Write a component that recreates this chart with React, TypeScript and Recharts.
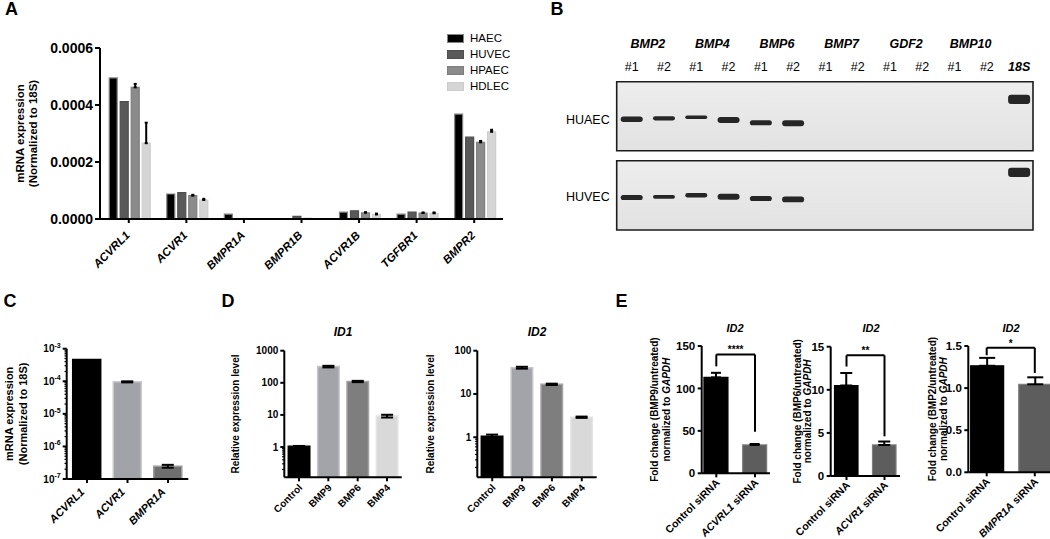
import React from 'react';
import {
  BarChart, Bar, XAxis, YAxis, ErrorBar, Legend, Cell,
  ScatterChart, Scatter, ReferenceArea, ReferenceLine,
} from 'recharts';

const FONT = '"Liberation Sans", Arial, Helvetica, sans-serif';
const AX = { stroke: '#000', strokeWidth: 2 };

// ---------------- Panel A data ----------------
const genesA = ['ACVRL1', 'ACVR1', 'BMPR1A', 'BMPR1B', 'ACVR1B', 'TGFBR1', 'BMPR2'];
const cellLinesA = ['HAEC', 'HUVEC', 'HPAEC', 'HDLEC'];
const haecA = [0.000495, 0.0000877, 0.000017, 0.000001, 0.000024, 0.000017, 0.000368];
const huvecA = [0.000412, 0.0000923, 0.0000005, 0.000009, 0.000029, 0.000024, 0.000287];
const hpaecA = [0.000462, 0.0000818, 0.0000005, 0.000002, 0.000022, 0.000021, 0.000269];
const hdlecA = [0.000266, 0.0000667, 0.000001, 0.000001, 0.000016, 0.00002, 0.000306];
const errHpaecA = [0.000012, 0.000003, null, null, 0.000002, 0.000002, 0.000005];
const errHdlecA = [0.000072, 0.000004, null, null, 0.000003, 0.000003, 0.000007];
const ticksA = [0, 0.0002, 0.0004, 0.0006];
const fillsA = ['#000000', '#595959', '#8b8b8b', '#d5d5d5'];
const strokesA = ['#858585', '#4f4f4f', '#7e7e7e', '#cdcdcd'];

// ---------------- Panel B data (gel) ----------------
const laneLabelsB = ['#1', '#2', '#1', '#2', '#1', '#2', '#1', '#2', '#1', '#2', '#1', '#2', '18S'];
const geneLabelsB = ['BMP2', 'BMP4', 'BMP6', 'BMP7', 'GDF2', 'BMP10'];
const rowNamesB = ['HUAEC', 'HUVEC'];
const rowLabelPosB = [37.6, 35.3];
const huaecBandPos = [37.6, 36.6, 35.6, 38.3, 41.0, 41.6, null, null, null, null, null, null, 17.6];
const huaecBandSignal = [0.9, 0.7, 0.6, 1.0, 0.85, 1.0, 0, 0, 0, 0, 0, 0, 1.55];
const huvecBandPos = [36.6, 36.0, 34.3, 36.0, 37.6, 38.6, null, null, null, null, null, null, 11.6];
const huvecBandSignal = [0.85, 0.65, 0.75, 1.0, 0.85, 0.95, 0, 0, 0, 0, 0, 0, 1.55];

// ---------------- Panel C data ----------------
const genesC = ['ACVRL1', 'ACVR1', 'BMPR1A'];
const valuesC = [4.7e-4, 9.6e-5, 2.47e-7];
const errC = [null, 0.35e-5, 0.25e-7];
const fillsC = ['#000000', '#a2a2a9', '#6f6f6f'];
const strokesC = ['#000000', '#cbcbcb', '#9a9a9a'];
const majorsC = [1e-7, 1e-6, 1e-5, 1e-4, 1e-3];
const minorsC = [
  2e-7, 3e-7, 4e-7, 5e-7, 6e-7, 7e-7, 8e-7, 9e-7,
  2e-6, 3e-6, 4e-6, 5e-6, 6e-6, 7e-6, 8e-6, 9e-6,
  2e-5, 3e-5, 4e-5, 5e-5, 6e-5, 7e-5, 8e-5, 9e-5,
  2e-4, 3e-4, 4e-4, 5e-4, 6e-4, 7e-4, 8e-4, 9e-4,
];

// ---------------- Panel D data ----------------
const treatD = ['Control', 'BMP9', 'BMP6', 'BMP4'];
const id1D = [1.05, 320, 110, 9.2];
const id1ErrD = [0.03, 18, 5, 0.9];
const id2D = [1.05, 40.5, 16.7, 2.9];
const id2ErrD = [0.1, 2, 0.6, 0.1];
const fillsD = ['#000000', '#a3a3aa', '#7e7e7e', '#d9d9d9'];
const strokesD = ['#000000', '#c6c6c6', '#a3a3a3', '#e4e4e4'];
const majorsD1 = [1, 10, 100, 1000];
const majorsD2 = [1, 10, 100];
const minorsD = [0.2, 0.3, 0.4, 0.5, 0.6, 0.7, 0.8, 0.9];

// ---------------- Panel E data ----------------
const siE1 = ['Control siRNA', 'ACVRL1 siRNA'];
const siE2 = ['Control siRNA', 'ACVR1 siRNA'];
const siE3 = ['Control siRNA', 'BMPR1A siRNA'];
const valE1 = [113, 33.4];
const errE1 = [5.4, 1.1];
const valE2 = [10.5, 3.6];
const errE2 = [1.45, 0.4];
const valE3 = [1.265, 1.045];
const errE3 = [0.094, 0.083];
const ticksE1 = [0, 50, 100, 150];
const ticksE2 = [0, 5, 10, 15];
const ticksE3 = [0, 0.5, 1.0, 1.5];
const bracketTopE = [140, 14, 1.48];
const bracketLeftE = [126, 12.7, 1.39];
const bracketRightE = [49, 4.6, 1.18];
const sigE = ['****', '**', '*'];
const fillsE = ['#000000', '#5d5d5d'];
const strokesE = ['#000000', '#7d7d7d'];

// ---------------- helpers ----------------
function YTitle(p: any) {
  const { viewBox, lines, xs, fontSize } = p;
  const cy = viewBox.y + viewBox.height / 2;
  return (
    <g>
      {lines.map((ln: any, i: number) => {
        const x = viewBox.x + xs[i];
        const segs = Array.isArray(ln) ? ln : [{ t: ln }];
        return (
          <text key={i} x={x} y={cy} transform={`rotate(-90 ${x} ${cy})`} textAnchor="middle"
            dominantBaseline="central" fontSize={fontSize} fontWeight="bold" fill="#000" fontFamily={FONT}
            style={{ whiteSpace: 'pre' }}>
            {segs.map((s: any, j: number) => (
              <tspan key={j} fontStyle={s.i ? 'italic' : 'normal'}>{s.t}</tspan>
            ))}
          </text>
        );
      })}
    </g>
  );
}

function RotTick(p: any) {
  const { x, y, payload, fontSize = 12, italic = false, italicFirst = false, dx = 0, dy = 0 } = p;
  const s = String(payload.value);
  let content: any = s;
  if (italicFirst && !s.startsWith('Control')) {
    const sp = s.indexOf(' ');
    content = [
      <tspan key="a" fontStyle="italic">{s.slice(0, sp)}</tspan>,
      <tspan key="b">{'\u00a0' + s.slice(sp + 1)}</tspan>,
    ];
  }
  return (
    <g transform={`translate(${x + dx},${y + dy})`}>
      <text x={0} y={0} textAnchor="end" transform="rotate(-45)" fontSize={fontSize} fontWeight="bold"
        fontStyle={italic ? 'italic' : 'normal'} fill="#000" fontFamily={FONT}>
        {content}
      </text>
    </g>
  );
}

function LogTick(p: any) {
  const { x, y, payload, majors, kind, fontSize } = p;
  const v = payload.value;
  const isMajor = majors.some((m: number) => Math.abs(m - v) <= m * 1e-6);
  const len = isMajor ? 4 : 2.2;
  let label: any = null;
  if (isMajor) {
    if (kind === 'pow') {
      const e = Math.round(Math.log10(v));
      label = (
        <text x={x - 6} y={y} dy="0.35em" textAnchor="end" fontSize={fontSize} fontWeight="bold" fill="#000" fontFamily={FONT}>
          10<tspan dy={-4.5} fontSize={fontSize * 0.7}>{String(e)}</tspan>
        </text>
      );
    } else {
      label = (
        <text x={x - 6} y={y} dy="0.35em" textAnchor="end" fontSize={fontSize} fontWeight="bold" fill="#000" fontFamily={FONT}>
          {String(v)}
        </text>
      );
    }
  }
  return (
    <g>
      <line x1={x - len} y1={y} x2={x} y2={y} stroke="#000" strokeWidth={isMajor ? 2 : 1.2} />
      {label}
    </g>
  );
}

function LegendA() {
  return (
    <div style={{ fontFamily: FONT, fontSize: 11.5, color: '#000' }}>
      {cellLinesA.map((n, i) => (
        <div key={n} style={{ display: 'flex', alignItems: 'center', height: 16 }}>
          <span style={{
            display: 'inline-block', width: 17, height: 9, background: fillsA[i],
            border: `1.5px solid ${strokesA[i]}`, boxSizing: 'border-box', marginRight: 6,
          }} />
          <span>{n}</span>
        </div>
      ))}
    </div>
  );
}

// ---------------- Panel A ----------------
function PanelA() {
  const rows = genesA.map((g, i) => ({
    gene: g,
    HAEC: haecA[i], HUVEC: huvecA[i], HPAEC: hpaecA[i], HDLEC: hdlecA[i],
    HPAEC_err: errHpaecA[i] == null ? null : [0, errHpaecA[i]],
    HDLEC_err: errHdlecA[i] == null ? null : [0, errHdlecA[i]],
  }));
  return (
    <BarChart width={520} height={290} data={rows} margin={{ top: 48, right: 17, bottom: 20, left: 0 }}
      barCategoryGap="16%" barGap={3}>
      <XAxis dataKey="gene" height={51} interval={0} tickSize={4} tickMargin={2}
        axisLine={AX} tickLine={AX} tick={<RotTick fontSize={11.5} italic dx={1.7} dy={11} />} />
      <YAxis width={100} domain={[0, 0.0006]} ticks={ticksA} interval={0} allowDataOverflow
        tickFormatter={(v: number) => v.toFixed(4)} tickSize={5} tickMargin={2}
        axisLine={AX} tickLine={AX}
        tick={{ fontSize: 14, fontWeight: 'bold', fill: '#000', fontFamily: FONT }}
        label={<YTitle lines={['mRNA expression', '(Normalized to 18S)']} xs={[20, 32.5]} fontSize={11.5} />} />
      <Legend layout="vertical" align="center" verticalAlign="middle"
        wrapperStyle={{ left: 447, top: 30, width: 70 }} content={() => <LegendA />} />
      {cellLinesA.map((n, i) => (
        <Bar key={n} dataKey={n} name={n} fill={fillsA[i]} stroke={strokesA[i]} strokeWidth={1.2}
          isAnimationActive={false}>
          {(n === 'HPAEC' || n === 'HDLEC') && (
            <ErrorBar dataKey={`${n}_err`} direction="y" width={1.5} stroke="#000" strokeWidth={2} />
          )}
        </Bar>
      ))}
    </BarChart>
  );
}

// ---------------- Panel B (gel) ----------------
const laneDomainB: [number, number] = [-0.465, 12.43];
const gelDomainB: [number, number] = [0, 69];
const gelW = 500;
const gelYW = 66.7;
const gelRight = 17;
const halfLanePx = ((gelW - gelYW - gelRight) / (laneDomainB[1] - laneDomainB[0])) / 2;

function Band(p: any) {
  const { cx, cy, payload } = p;
  if (cx == null || cy == null) return null;
  const h = 6 * payload.signal;
  const w = 22;
  return (
    <rect x={cx - w / 2} y={cy - h / 2} width={w} height={h} rx={Math.min(3, h / 2)}
      fill="#262626" filter="url(#bandBlur)" />
  );
}

function LaneTick(p: any) {
  const { x, y, payload } = p;
  const i = payload.value;
  const lab = laneLabelsB[i];
  const is18 = lab === '18S';
  const gene = i % 2 === 0 && i / 2 < geneLabelsB.length ? geneLabelsB[i / 2] : null;
  return (
    <g>
      <text x={x} y={y - 11} textAnchor="middle" fontSize={12.5} fontWeight={is18 ? 'bold' : 'normal'}
        fontStyle={is18 ? 'italic' : 'normal'} fill="#000" fontFamily={FONT}>{lab}</text>
      {gene && (
        <text x={x + halfLanePx} y={y - 34.2} textAnchor="middle" fontSize={12.5} fontWeight="bold"
          fontStyle="italic" fill="#000" fontFamily={FONT}>{gene}</text>
      )}
    </g>
  );
}

function GelChart({ row, showHeader }: { row: number; showHeader: boolean }) {
  const pos = row === 0 ? huaecBandPos : huvecBandPos;
  const sig = row === 0 ? huaecBandSignal : huvecBandSignal;
  const bands = laneLabelsB
    .map((_, i) => ({ lane: i, pos: pos[i], signal: sig[i] }))
    .filter((b) => b.pos != null);
  const lanes = laneLabelsB.map((_, i) => i);
  const gid = `gelbg${row}`;
  return (
    <ScatterChart width={gelW} height={showHeader ? 134 : 80}
      margin={showHeader ? { top: 39.7, right: gelRight, bottom: 3.3, left: 0 } : { top: 5.7, right: gelRight, bottom: 5, left: 0 }}>
      <defs>
        <linearGradient id={gid} x1="0" y1="0" x2="0" y2="1">
          <stop offset="0%" stopColor="#ededed" />
          <stop offset="100%" stopColor="#e2e2e2" />
        </linearGradient>
        <filter id={`bandBlur`} x="-20%" y="-60%" width="140%" height="220%">
          <feGaussianBlur stdDeviation="0.7" />
        </filter>
      </defs>
      <XAxis type="number" dataKey="lane" orientation="top" domain={laneDomainB} allowDataOverflow
        ticks={lanes} interval={0} height={22} hide={!showHeader}
        axisLine={false} tickLine={false} tickSize={0} tickMargin={0} tick={<LaneTick />} />
      <YAxis type="number" dataKey="pos" domain={gelDomainB} reversed allowDataOverflow width={gelYW}
        ticks={[rowLabelPosB[row]]} interval={0} tickFormatter={() => rowNamesB[row]}
        axisLine={false} tickLine={false} tickSize={0} tickMargin={7}
        tick={{ fontSize: 12.5, fill: '#000', fontFamily: FONT }} />
      <ReferenceArea x1={laneDomainB[0]} x2={laneDomainB[1]} y1={gelDomainB[0]} y2={gelDomainB[1]}
        fill={`url(#${gid})`} fillOpacity={1} stroke="#1c1c1c" strokeWidth={1.6} />
      <Scatter data={bands} dataKey="pos" shape={<Band />} isAnimationActive={false} />
    </ScatterChart>
  );
}

// ---------------- Panel C ----------------
function PanelC() {
  const rows = genesC.map((g, i) => ({ gene: g, value: valuesC[i], err: errC[i] }));
  return (
    <BarChart width={200} height={269} data={rows} margin={{ top: 78.7, right: 11.7, bottom: 0, left: 0 }}>
      <XAxis dataKey="gene" height={60} interval={0} tickSize={4} tickMargin={2}
        axisLine={AX} tickLine={AX} tick={<RotTick fontSize={11} italic dx={-2} dy={7.6} />} />
      <YAxis width={66.7} scale="log" domain={[1e-7, 1e-3]} allowDataOverflow
        ticks={[...majorsC, ...minorsC]} interval={0} axisLine={AX} tickLine={false} tickSize={0} tickMargin={0}
        tick={<LogTick majors={majorsC} kind="pow" fontSize={10} />}
        label={<YTitle lines={['mRNA expression', '(Normalized to 18S)']} xs={[9.5, 23]} fontSize={11} />} />
      <Bar dataKey="value" barSize={28} isAnimationActive={false}>
        {genesC.map((g, i) => <Cell key={g} fill={fillsC[i]} stroke={strokesC[i]} strokeWidth={1.5} />)}
        <ErrorBar dataKey="err" direction="y" width={6} stroke="#000" strokeWidth={2} />
      </Bar>
    </BarChart>
  );
}

// ---------------- Panel D ----------------
function PanelD({ values, errs, top, majors, width, yWidth }: any) {
  const rows = treatD.map((t, i) => ({ t, value: values[i], err: errs[i] }));
  return (
    <BarChart width={width} height={269} data={rows} margin={{ top: 80.7, right: 13.3, bottom: 0, left: 0 }}>
      <XAxis dataKey="t" height={61.7} interval={0} tickSize={4} tickMargin={2}
        axisLine={AX} tickLine={AX} tick={<RotTick fontSize={10} dx={4} dy={5} />} />
      <YAxis width={yWidth} scale="log" domain={[top === 1000 ? 0.114 : 0.1185, top]} allowDataOverflow
        ticks={[...majors, ...minorsD]} interval={0} axisLine={AX} tickLine={false} tickSize={0} tickMargin={0}
        tick={<LogTick majors={majors} kind="num" fontSize={10} />}
        label={<YTitle lines={['Relative expression level']} xs={[15]} fontSize={10} />} />
      <Bar dataKey="value" barSize={21.5} isAnimationActive={false}>
        {treatD.map((t, i) => <Cell key={t} fill={fillsD[i]} stroke={strokesD[i]} strokeWidth={1.5} />)}
        <ErrorBar dataKey="err" direction="y" width={6} stroke="#000" strokeWidth={2} />
      </Bar>
    </BarChart>
  );
}

// ---------------- Panel E ----------------
function PanelE(props: any) {
  const { cats, vals, errs, k, width, yWidth, marginTop, xH, ticks, pad, barSize, capW, fmt, bmp, labelXs } = props;
  const rows = cats.map((c: string, i: number) => ({ c, value: vals[i], err: [0, errs[i]] }));
  return (
    <BarChart width={width} height={269} data={rows} margin={{ top: marginTop, right: props.right, bottom: 0, left: 0 }}>
      <XAxis dataKey="c" height={xH} interval={0} tickSize={4} tickMargin={2} padding={pad}
        axisLine={AX} tickLine={AX} tick={<RotTick fontSize={10.5} italicFirst dx={4} dy={4} />} />
      <YAxis width={yWidth} domain={[ticks[0], ticks[ticks.length - 1]]} ticks={ticks} interval={0} allowDataOverflow
        tickFormatter={fmt} tickSize={4} tickMargin={2.5} axisLine={AX} tickLine={AX}
        tick={{ fontSize: 11.5, fontWeight: 'bold', fill: '#000', fontFamily: FONT }}
        label={<YTitle lines={[`Fold change (${bmp}/untreated)`, [{ t: 'normalized to ' }, { t: 'GAPDH', i: true }]]}
          xs={labelXs} fontSize={10} />} />
      <Bar dataKey="value" barSize={barSize} isAnimationActive={false}>
        {cats.map((c: string, i: number) => <Cell key={c} fill={fillsE[i]} stroke={strokesE[i]} strokeWidth={1.2} />)}
        <ErrorBar dataKey="err" direction="y" width={capW} stroke="#000" strokeWidth={2} />
      </Bar>
      <ReferenceLine segment={[{ x: cats[0], y: bracketTopE[k] }, { x: cats[1], y: bracketTopE[k] }]}
        stroke="#000" strokeWidth={2} ifOverflow="visible"
        label={{ value: sigE[k], position: 'top', offset: 1, fontSize: 10, fontWeight: 'bold', fill: '#000', fontFamily: FONT }} />
      <ReferenceLine segment={[{ x: cats[0], y: bracketTopE[k] }, { x: cats[0], y: bracketLeftE[k] }]}
        stroke="#000" strokeWidth={2} ifOverflow="visible" />
      <ReferenceLine segment={[{ x: cats[1], y: bracketTopE[k] }, { x: cats[1], y: bracketRightE[k] }]}
        stroke="#000" strokeWidth={2} ifOverflow="visible" />
    </BarChart>
  );
}

const pos = (left: number, top: number): React.CSSProperties => ({ position: 'absolute', left, top });

export default function App() {
  return (
    <div style={{ position: 'absolute', left: 0, top: 0, width: 1050, height: 539, overflow: 'hidden', background: '#fff', fontFamily: FONT }}>
      <div style={pos(0, 0)}><PanelA /></div>
      <div style={pos(550, 20)}><GelChart row={0} showHeader /></div>
      <div style={pos(550, 155)}><GelChart row={1} showHeader={false} /></div>
      <div style={pos(0, 270)}><PanelC /></div>
      <div style={pos(220, 270)}>
        <PanelD values={id1D} errs={id1ErrD} top={1000} majors={majorsD1} width={195} yWidth={64.3} />
      </div>
      <div style={pos(415, 270)}>
        <PanelD values={id2D} errs={id2ErrD} top={100} majors={majorsD2} width={195} yWidth={62.3} />
      </div>
      <div style={pos(640, 270)}>
        <PanelE cats={siE1} vals={valE1} errs={errE1} k={0} width={140} yWidth={61.7} right={10} marginTop={76}
          xH={65.7} ticks={ticksE1} pad={{ left: -4.75, right: -4.35 }} barSize={24} capW={5}
          fmt={(v: number) => String(v)} bmp="BMP9" labelXs={[14, 26]} />
      </div>
      <div style={pos(780, 270)}>
        <PanelE cats={siE2} vals={valE2} errs={errE2} k={1} width={130} yWidth={50.7} right={10} marginTop={76.7}
          xH={63} ticks={ticksE2} pad={{ left: -3.2, right: -3.5 }} barSize={23.5} capW={6}
          fmt={(v: number) => String(v)} bmp="BMP6" labelXs={[16.7, 27.5]} />
      </div>
      <div style={pos(910, 270)}>
        <PanelE cats={siE3} vals={valE3} errs={errE3} k={2} width={150} yWidth={58.3} right={7} marginTop={76}
          xH={66.7} ticks={ticksE3} pad={{ left: -5.65, right: -5.85 }} barSize={33} capW={8}
          fmt={(v: number) => v.toFixed(1)} bmp="BMP2" labelXs={[22, 33.5]} />
      </div>
      <svg width={1050} height={539} style={{ position: 'absolute', left: 0, top: 0, pointerEvents: 'none' }}>
        <g fontFamily={FONT} fontWeight="bold" fill="#000">
          <text x={5} y={15} fontSize={18}>A</text>
          <text x={550.5} y={15} fontSize={18}>B</text>
          <text x={3.5} y={306.5} fontSize={18}>C</text>
          <text x={221.5} y={306.5} fontSize={18}>D</text>
          <text x={615.5} y={306.5} fontSize={18}>E</text>
          <text x={343} y={336} fontSize={12} fontStyle="italic" textAnchor="middle">ID1</text>
          <text x={537} y={336} fontSize={12} fontStyle="italic" textAnchor="middle">ID2</text>
          <text x={735} y={332} fontSize={11} fontStyle="italic" textAnchor="middle">ID2</text>
          <text x={871} y={332} fontSize={11} fontStyle="italic" textAnchor="middle">ID2</text>
          <text x={1011} y={332} fontSize={11} fontStyle="italic" textAnchor="middle">ID2</text>
        </g>
      </svg>
    </div>
  );
}
